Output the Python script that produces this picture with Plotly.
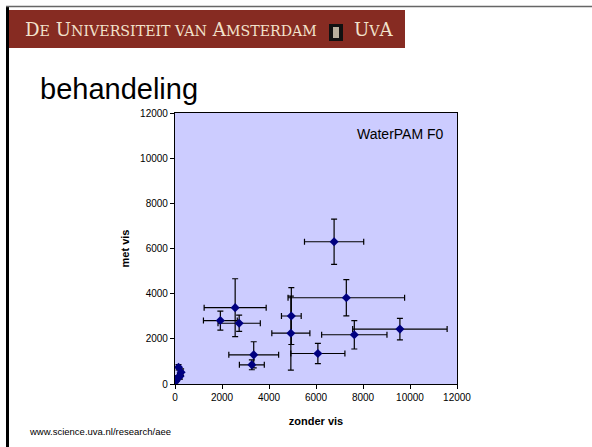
import plotly.graph_objects as go

# Data
zonder_vis = [2560, 1930, 2730, 4950, 4930, 7290, 9570, 7630, 6080, 3350, 3270, 6770, 150, 260, 210, 60, 110, 30]
met_vis    = [3380, 2810, 2690, 3010, 2250, 3820, 2430, 2180, 1350, 1290, 850, 6300, 740, 520, 340, 200, 270, 120]
zonder_err = [1320, 720, 900, 420, 810, 2480, 2010, 1390, 1150, 1060, 530, 1260, 60, 80, 70, 40, 50, 30]
met_err    = [1280, 420, 360, 1260, 1640, 800, 480, 630, 450, 580, 220, 1000, 120, 150, 120, 80, 90, 60]

x_ticks = [0, 2000, 4000, 6000, 8000, 10000, 12000]
y_ticks = [0, 2000, 4000, 6000, 8000, 10000, 12000]

W, H = 592, 447
L, R, T, B = 175, 457, 113, 384

def px(x):
    return (x - L) / (R - L)

def py(y):
    return (B - y) / (B - T)

fig = go.Figure()
fig.add_trace(go.Scatter(
    x=zonder_vis, y=met_vis, mode="markers",
    marker=dict(symbol="diamond", size=7, color="#000080"),
    error_x=dict(type="data", array=zonder_err, color="black", thickness=1.2, width=3),
    error_y=dict(type="data", array=met_err, color="black", thickness=1.2, width=3),
    showlegend=False,
))

shapes = [
    # banner
    dict(type="rect", xref="paper", yref="paper", x0=px(8), x1=px(405), y0=py(48), y1=py(10),
         fillcolor="#862B22", line=dict(width=0), layer="below"),
    # logo box
    dict(type="rect", xref="paper", yref="paper", x0=px(329), x1=px(343), y0=py(41), y1=py(24),
         fillcolor="#111111", line=dict(width=0)),
    dict(type="rect", xref="paper", yref="paper", x0=px(333), x1=px(339), y0=py(38), y1=py(27),
         fillcolor="#B8AE9C", line=dict(width=0)),
    # slide frame
    dict(type="line", xref="paper", yref="paper", x0=px(7.5), x1=px(7.5), y0=py(447), y1=py(6),
         line=dict(color="black", width=3)),
    dict(type="line", xref="paper", yref="paper", x0=px(6), x1=px(592), y0=py(6.5), y1=py(6.5),
         line=dict(color="#666666", width=1.5)),
]

serif = "DejaVu Serif, Liberation Serif, serif"
annotations = [
    dict(text="D<span style='font-size:14.2px'>E</span> U<span style='font-size:14.2px'>NIVERSITEIT VAN</span> A<span style='font-size:14.2px'>MSTERDAM</span>",
         xref="paper", yref="paper", x=px(23), y=py(29), xanchor="left", yanchor="middle",
         showarrow=False, font=dict(family=serif, size=18.2, color="#F2E2CC")),
    dict(text="U<span style='font-size:14.2px'>V</span>A",
         xref="paper", yref="paper", x=px(352), y=py(29), xanchor="left", yanchor="middle",
         showarrow=False, font=dict(family=serif, size=18.2, color="#F2E2CC")),
    dict(text="behandeling", xref="paper", yref="paper", x=px(38), y=py(89), xanchor="left", yanchor="middle",
         showarrow=False, font=dict(family="Liberation Sans, Arial, sans-serif", size=29, color="black")),
    dict(text="WaterPAM F0", xref="paper", yref="paper", x=px(446), y=py(134), xanchor="right", yanchor="middle",
         showarrow=False, font=dict(family="Liberation Sans, Arial, sans-serif", size=14, color="black")),
    dict(text="www.science.uva.nl/research/aee", xref="paper", yref="paper", x=px(27), y=py(431),
         xanchor="left", yanchor="middle",
         showarrow=False, font=dict(family="Liberation Sans, Arial, sans-serif", size=9.5, color="black")),
]

fig.update_layout(
    width=W, height=H,
    margin=dict(l=L, r=W - R, t=T, b=H - B, pad=0),
    paper_bgcolor="white",
    plot_bgcolor="#CCCCFF",
    font=dict(family="Liberation Sans, Arial, sans-serif", size=10, color="black"),
    shapes=shapes,
    annotations=annotations,
    xaxis=dict(range=[0, 12000], tickvals=x_ticks, ticktext=[str(v) for v in x_ticks],
               showgrid=False, zeroline=False, showline=True, linecolor="black", linewidth=1.2,
               mirror=True, ticks="outside", ticklen=4, tickcolor="black",
               title=dict(text="<b>zonder vis</b>", font=dict(size=11), standoff=15)),
    yaxis=dict(range=[0, 12000], tickvals=y_ticks, ticktext=[str(v) for v in y_ticks],
               showgrid=False, zeroline=False, showline=True, linecolor="black", linewidth=1.2,
               mirror=True, ticks="outside", ticklen=4, tickcolor="black",
               title=dict(text="<b>met vis</b>", font=dict(size=11), standoff=8)),
)

fig.write_html("out.html", config={"displayModeBar": False},
               post_script="document.body.style.margin='0';document.body.style.overflow='hidden';")
